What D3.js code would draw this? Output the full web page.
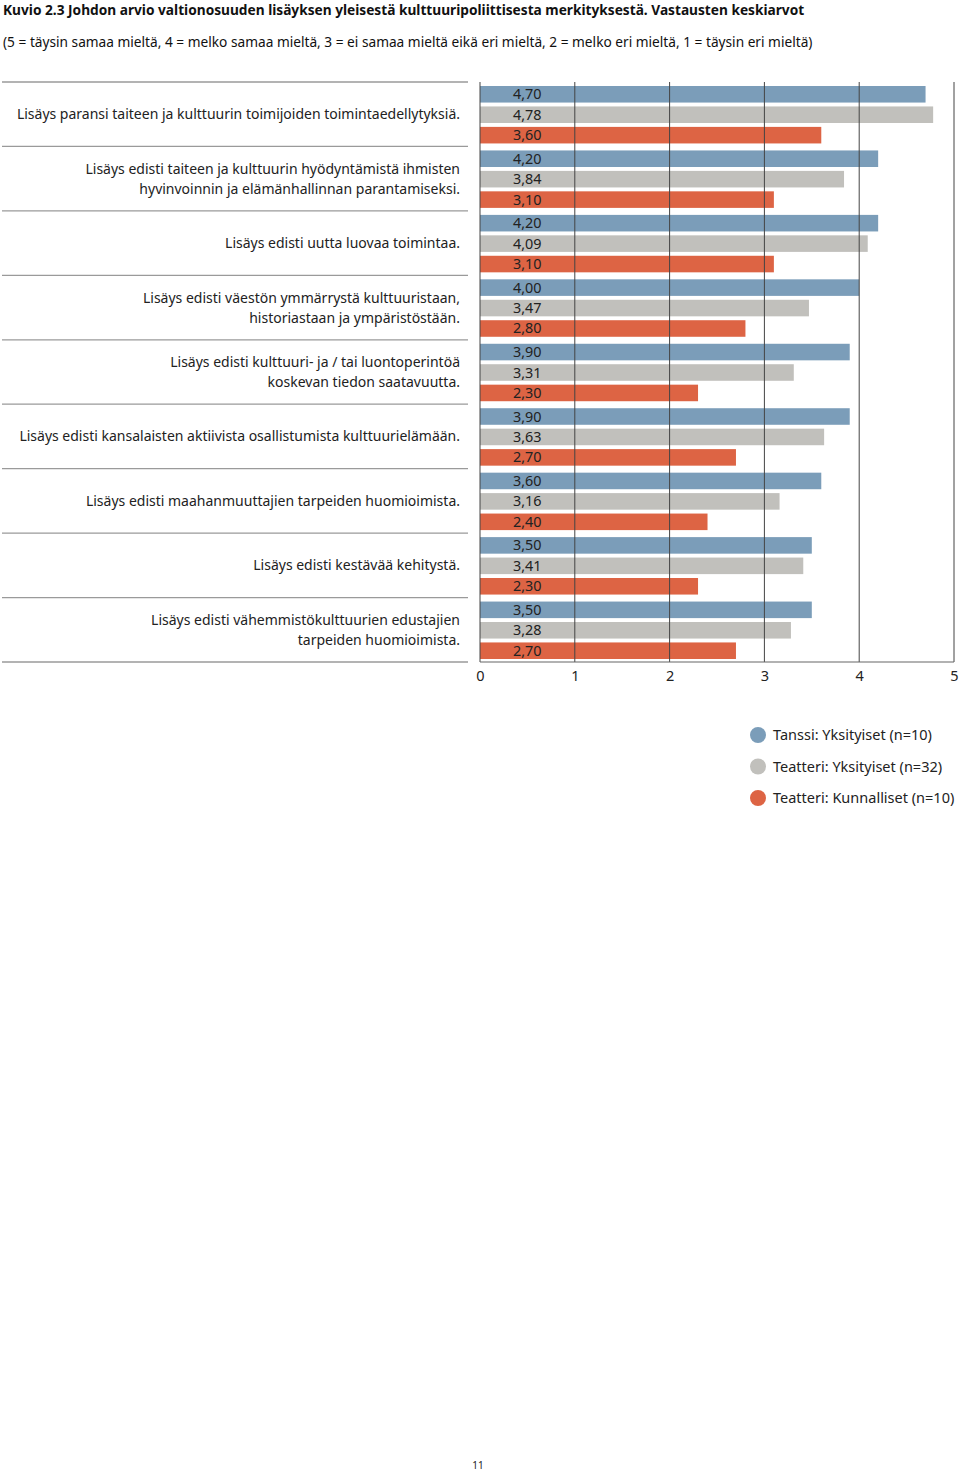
<!DOCTYPE html>
<html><head><meta charset="utf-8">
<script src="https://cdn.jsdelivr.net/npm/d3@7"></script>
<style>body{margin:0;background:#fff}svg{display:block}text{font-family:"Noto Sans",sans-serif}</style>
</head><body>
<script>
const categories = [
  ["Lisäys paransi taiteen ja kulttuurin toimijoiden toimintaedellytyksiä."],
  ["Lisäys edisti taiteen ja kulttuurin hyödyntämistä ihmisten","hyvinvoinnin ja elämänhallinnan parantamiseksi."],
  ["Lisäys edisti uutta luovaa toimintaa."],
  ["Lisäys edisti väestön ymmärrystä kulttuuristaan,","historiastaan ja ympäristöstään."],
  ["Lisäys edisti kulttuuri- ja / tai luontoperintöä","koskevan tiedon saatavuutta."],
  ["Lisäys edisti kansalaisten aktiivista osallistumista kulttuurielämään."],
  ["Lisäys edisti maahanmuuttajien tarpeiden huomioimista."],
  ["Lisäys edisti kestävää kehitystä."],
  ["Lisäys edisti vähemmistökulttuurien edustajien","tarpeiden huomioimista."]
];
const seriesNames = ["Tanssi: Yksityiset (n=10)","Teatteri: Yksityiset (n=32)","Teatteri: Kunnalliset (n=10)"];
const tanssiYks = [4.70,4.20,4.20,4.00,3.90,3.90,3.60,3.50,3.50];
const teatteriYks = [4.78,3.84,4.09,3.47,3.31,3.63,3.16,3.41,3.28];
const teatteriKunn = [3.60,3.10,3.10,2.80,2.30,2.70,2.40,2.30,2.70];
const xTicks = [0,1,2,3,4,5];
const colors = ["#7b9db9","#c1c0bc","#dd6444"];
const series = [tanssiYks, teatteriYks, teatteriKunn];
const fmt = v => d3.format(".2f")(v).replace(".", ",");

(function(){
const W=960,H=1472;
const svg=d3.select("body").append("svg").attr("width",W).attr("height",H);

svg.append("text").attr("x",3).attr("y",15).attr("font-size",13.7).attr("font-weight","bold").attr("fill","#111")
  .text("Kuvio 2.3 Johdon arvio valtionosuuden lisäyksen yleisestä kulttuuripoliittisesta merkityksestä. Vastausten keskiarvot");
svg.append("text").attr("x",3).attr("y",47).attr("font-size",13.7).attr("fill","#111")
  .text("(5 = täysin samaa mieltä, 4 = melko samaa mieltä, 3 = ei samaa mieltä eikä eri mieltä, 2 = melko eri mieltä, 1 = täysin eri mieltä)");

const plotTop=82, plotBottom=662;
const x=d3.scaleLinear().domain([0,5]).range([480,954]);
const y0=d3.scaleBand().domain(d3.range(categories.length)).range([plotTop,plotBottom]);
const y1=d3.scaleBand().domain([0,1,2]).range([4,y0.bandwidth()-3]).paddingInner(0.19);

svg.append("g").selectAll("line").data(d3.range(categories.length+1)).join("line")
  .attr("x1",2).attr("x2",468)
  .attr("y1",i=>i<categories.length?y0(i):plotBottom).attr("y2",i=>i<categories.length?y0(i):plotBottom)
  .attr("stroke","#9a9a9a").attr("stroke-width",1.3);

categories.forEach((lines,i)=>{
  const cy=y0(i)+y0.bandwidth()/2;
  const lh=20;
  const t=svg.append("text").attr("text-anchor","end").attr("font-size",14).attr("fill","#222");
  lines.forEach((l,j)=>{
    t.append("tspan").attr("x",460).attr("y",cy+5-(lines.length-1)*lh/2+j*lh).text(l);
  });
});

const g=svg.append("g");
categories.forEach((c,i)=>{
  series.forEach((s,k)=>{
    const by=y0(i)+y1(k);
    g.append("rect").attr("x",x(0)).attr("y",by).attr("width",x(s[i])-x(0)).attr("height",y1.bandwidth()).attr("fill",colors[k]);
    g.append("text").attr("x",513).attr("y",by+y1.bandwidth()/2+5).attr("font-size",14.4).attr("fill","#222").text(fmt(s[i]));
  });
});

svg.append("g").selectAll("line").data(xTicks).join("line")
  .attr("x1",d=>x(d)).attr("x2",d=>x(d)).attr("y1",plotTop).attr("y2",plotBottom)
  .attr("stroke","#444").attr("stroke-width",1);
svg.append("line").attr("x1",x(0)).attr("x2",x(5)).attr("y1",plotBottom).attr("y2",plotBottom).attr("stroke","#666").attr("stroke-width",1.2);

const ax=svg.append("g").attr("transform",`translate(0,${plotBottom})`)
  .call(d3.axisBottom(x).tickValues(xTicks).tickSize(0).tickPadding(9).tickFormat(d3.format("d")));
ax.select(".domain").remove();
ax.selectAll("text").attr("font-size",14.5).attr("fill","#222").attr("font-family","Noto Sans");

const lg=svg.append("g");
seriesNames.forEach((n,k)=>{
  const ly=735+k*31.5;
  lg.append("circle").attr("cx",758).attr("cy",ly).attr("r",8).attr("fill",colors[k]);
  lg.append("text").attr("x",773).attr("y",ly+5).attr("font-size",14.5).attr("fill","#222").text(n);
});

svg.append("text").attr("x",478).attr("y",1469).attr("text-anchor","middle").attr("font-size",10).attr("fill","#222").text("11");
})();
</script>
</body></html>
